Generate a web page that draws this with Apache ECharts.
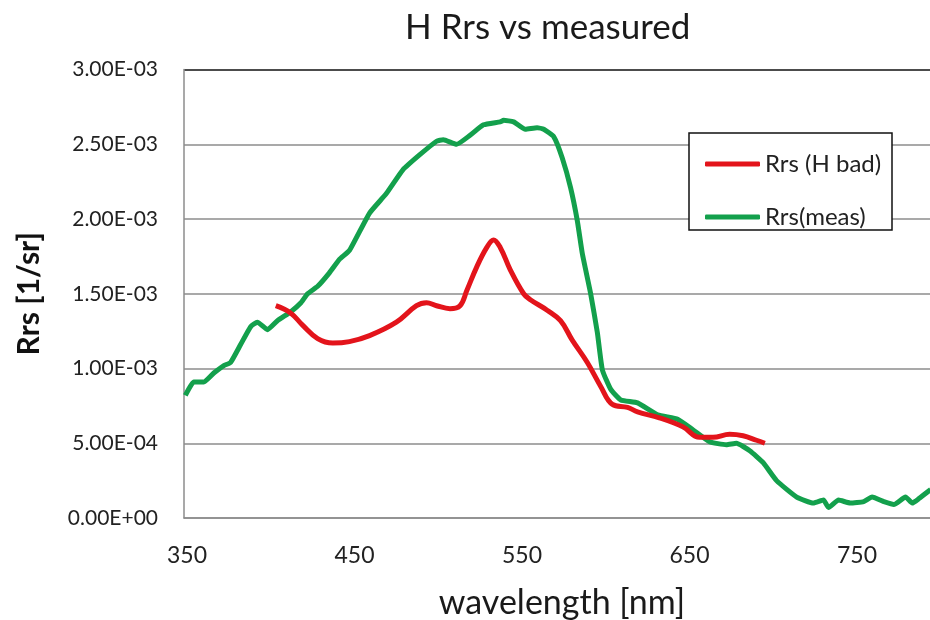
<!DOCTYPE html>
<html>
<head>
<meta charset="utf-8">
<script src="https://cdn.jsdelivr.net/npm/echarts@6/dist/echarts.min.js"></script>
<style>html,body{margin:0;padding:0;background:#fff;}#chart{width:930px;height:620px;}</style>
</head>
<body>
<div id="chart"></div>
<script>
// Rrs values in units of 1e-3 (1/sr)
const measWavelength = [349,354,360,366,372,376,382,388,392,398,404,412,418,422,428,435,441,447,459,469,479,489,499,503,511,519,527,537,539,545,552,559,563,569,574,579,583,586,591,595,598,603,609,619,631,643,652,662,672,678,686,694,702,714,724,730,733,739,746,754,759,766,772,779,783,787,794];
const measRrs = [0.82,0.91,0.91,0.97,1.02,1.04,1.16,1.28,1.31,1.26,1.32,1.38,1.44,1.50,1.55,1.64,1.73,1.79,2.04,2.17,2.33,2.43,2.52,2.53,2.50,2.56,2.63,2.65,2.66,2.65,2.60,2.61,2.60,2.55,2.41,2.21,1.99,1.77,1.50,1.24,0.99,0.86,0.79,0.77,0.69,0.66,0.59,0.51,0.49,0.50,0.45,0.37,0.25,0.14,0.10,0.12,0.07,0.12,0.10,0.11,0.14,0.11,0.09,0.14,0.10,0.13,0.19];
const hbadWavelength = [403,412,419,428,437,447,459,475,487,493,499,507,513,517,523,529,533,537,543,551,555,565,573,580,589,597,604,613,619,632,646,656,664,674,682,690,695];
const hbadRrs = [1.42,1.37,1.29,1.20,1.17,1.18,1.22,1.31,1.42,1.44,1.42,1.40,1.42,1.52,1.68,1.81,1.86,1.81,1.66,1.50,1.46,1.39,1.32,1.19,1.04,0.88,0.76,0.74,0.71,0.67,0.61,0.54,0.54,0.56,0.55,0.52,0.50];
const xTickLabels = [350,450,550,650,750];
const seriesNames = ['Rrs (H bad)','Rrs(meas)'];
const SCALE = 1e-3;

function sci(v){
  const parts = Number(v).toExponential(2).split('e');
  const e = parseInt(parts[1],10);
  const sign = e < 0 ? '-' : '+';
  const ae = Math.abs(e);
  return parts[0] + 'E' + sign + (ae < 10 ? '0' + ae : String(ae));
}

const chart = echarts.init(document.getElementById('chart'), null, {renderer:'canvas'});
const F = 'Lato, "Open Sans", sans-serif';
const option = {
  backgroundColor:'#ffffff',
  animation:false,
  title:{
    text:'H Rrs vs measured',
    left:405, top:10, padding:0,
    textStyle:{fontFamily:F, fontSize:35, fontWeight:'normal', color:'#1a1a1a'}
  },
  grid:{left:184, right:0, top:69.5, bottom:102, containLabel:false, outerBoundsMode:'none'},
  xAxis:{
    type:'value', min:348.2, max:793.6,
    name:'wavelength [nm]', nameLocation:'middle', nameGap:68,
    nameTextStyle:{fontFamily:F, fontSize:34, color:'#1a1a1a', padding:[0,0,0,10]},
    axisLine:{show:true, onZero:false, lineStyle:{color:'#8c8c8c', width:1.5}},
    axisTick:{show:false},
    splitLine:{show:false},
    axisLabel:{customValues:xTickLabels, margin:26, fontFamily:F, fontSize:23, color:'#222', formatter:v=>String(v)}
  },
  yAxis:{
    type:'value', min:0, max:0.003, interval:0.0005,
    name:'Rrs [1/sr]', nameLocation:'middle', nameGap:140, nameRotate:90,
    nameTextStyle:{fontFamily:F, fontSize:30, fontWeight:'bold', color:'#111'},
    axisLine:{show:true, lineStyle:{color:'#8c8c8c', width:1.5}},
    axisTick:{show:false},
    splitLine:{show:true, lineStyle:{color:['#8c8c8c','#8c8c8c','#8c8c8c','#8c8c8c','#8c8c8c','#8c8c8c','#111'], width:1.5}},
    axisLabel:{margin:26, fontFamily:F, fontSize:21, color:'#222', formatter:v=>sci(v)}
  },
  legend:{
    orient:'vertical', left:700, top:147, itemGap:29,
    icon:'roundRect', itemWidth:55, itemHeight:5,
    data:seriesNames,
    textStyle:{fontFamily:F, fontSize:24, color:'#222', lineHeight:20}
  },
  graphic:[{
    type:'rect', z:3,
    shape:{x:689, y:133, width:203, height:97},
    style:{fill:'#fff', stroke:'#111', lineWidth:1.5}
  }],
  series:[
    {
      name:seriesNames[0], type:'line', smooth:0.4, showSymbol:false, z:3,
      lineStyle:{color:'#e3141b', width:5}, itemStyle:{color:'#e3141b'},
      data:hbadWavelength.map((w,i)=>[w, hbadRrs[i]*SCALE])
    },
    {
      name:seriesNames[1], type:'line', smooth:0.15, showSymbol:false, z:2,
      lineStyle:{color:'#13a04c', width:5}, itemStyle:{color:'#13a04c'},
      data:measWavelength.map((w,i)=>[w, measRrs[i]*SCALE])
    }
  ]
};
chart.setOption(option);
</script>
</body>
</html>
